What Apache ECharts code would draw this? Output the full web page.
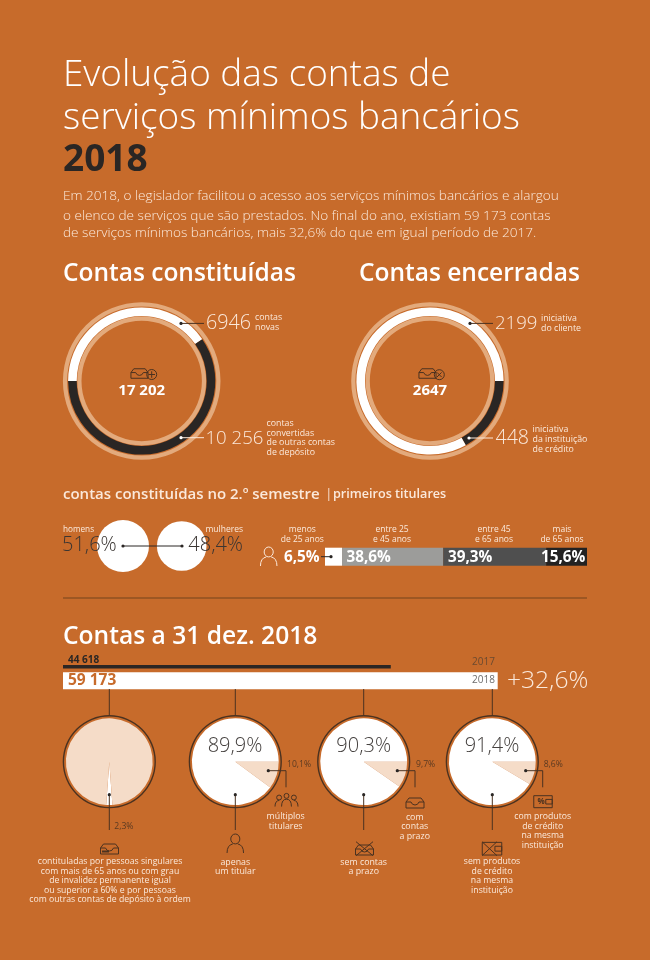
<!DOCTYPE html>
<html><head><meta charset="utf-8">
<style>html,body{margin:0;padding:0;background:#c76b2b}#c{width:650px;height:960px}</style>
<script src="https://cdn.jsdelivr.net/npm/echarts@6/dist/echarts.min.js"></script>
</head><body><div id="c"></div>
<script>
const titleLines = ['Evolução das contas de','serviços mínimos bancários'];
const titleYear = '2018';
const introLines = ['Em 2018, o legislador facilitou o acesso aos serviços mínimos bancários e alargou','o elenco de serviços que são prestados. No final do ano, existiam 59 173 contas','de serviços mínimos bancários, mais 32,6% do que em igual período de 2017.'];
const constituidasValues = [6946, 10256];
const encerradasValues = [448, 2199];
const genderValues = [51.6, 48.4];
const ageValues = [6.5, 38.6, 39.3, 15.6];
const ageLabels = ['6,5%','38,6%','39,3%','15,6%'];
const totals2017 = [44618];
const totals2018 = [59173];
const pieShares = [[2.3, 97.7],[10.1, 89.9],[9.7, 90.3],[8.6, 91.4]];

const BG='#c76b2b', TAN='#e3aa7c', DARK='#2a2624', LIGHT='#fbe9db', WEDGE='#f5dcc8', LINE='#4b3220';
const FONT='"Open Sans"';
const g=[];
const iconEls=[];
function t(text,x,y,size,o={}){
  g.push({type:'text',silent:true,z:20,x,y:y+1,style:{text,font:`${o.w||400} ${size}px ${FONT}`,fill:o.c||LIGHT,
    textAlign:o.a||'left',textVerticalAlign:'middle'}});
}
function stack(lines,x,ys,size,o){lines.forEach((l,i)=>t(l,x,ys[i],size,o));}
function l(x1,y1,x2,y2,c=LINE,w=1){g.push({type:'line',silent:true,z:15,shape:{x1,y1,x2,y2},style:{stroke:c,lineWidth:w}});}
function d(x,y,c=DARK,r=1.6){g.push({type:'circle',silent:true,z:16,shape:{cx:x,cy:y,r},style:{fill:c}});}
function icon(path,cx,cy,w,h,c=LINE,lw=1){iconEls.push({type:'path',silent:true,z2:18,shape:{pathData:path,layout:'center',x:cx-w/2,y:cy-h/2,width:w,height:h},style:{fill:null,stroke:c,lineWidth:lw}});}

// ---- text
t(titleLines[0],63,74,36.9,{w:300,c:'#fff'});
t(titleLines[1],63,117,36.9,{w:300,c:'#fff'});
t(titleYear,63,159.5,37,{w:700,c:DARK});
stack(introLines,63,[195.5,215.5,232.5],13.6,{w:300});
t('Contas constituídas',63,273,24.5,{w:600,c:'#fff'});
t('Contas encerradas',359,273,24.5,{w:600,c:'#fff'});

t('6946',206,322.5,19.7,{w:300});
stack(['contas','novas'],255,[316.5,326.5],8.8);
t('10 256',205.5,437.5,18.6,{w:300});
stack(['contas','convertidas','de outras contas','de depósito'],266.5,[422,432,441.5,451],8.8);
t('17 202',141.7,389.5,15,{w:700,c:'#fff',a:'center'});
t('2199',495,322.5,18.6,{w:300});
stack(['iniciativa','do cliente'],541,[317,327],8.8);
t('448',495.5,437.5,19.6,{w:300});
stack(['iniciativa','da instituição','de crédito'],532.5,[428,438,448],8.8);
t('2647',430,389.5,15,{w:700,c:'#fff',a:'center'});

l(181,323.4,204,323.4,LINE);d(181,323.4);
l(181,437.7,204,437.7,LIGHT);d(181,437.7,'#fff');
l(470,323.4,493,323.4,LINE);d(470,323.4);
l(469,438,493,438,LIGHT);d(469,438,'#fff');

t('contas constituídas no 2.º semestre',63,493.5,15,{w:600});
t('|',325.5,493.5,12,{w:400});
t('primeiros titulares',333,493.5,12.6,{w:600});
t('homens',63,529,8.2);
t('51,6%',62,544.5,20,{w:300,c:'#3a3532'});
t('mulheres',243,529,8.5,{a:'right'});
t('48,4%',243,544.5,20,{w:300,c:'#3a3532',a:'right'});
l(123,546,182,546,DARK);d(123,546);d(182,546);

stack(['menos','de 25 anos'],302.3,[529,539],8.5,{a:'center'});
stack(['entre 25','e 45 anos'],392,[529,539],8.5,{a:'center'});
stack(['entre 45','e 65 anos'],494,[529,539],8.5,{a:'center'});
stack(['mais','de 65 anos'],562,[529,539],8.5,{a:'center'});
t(ageLabels[0],284,557,15.3,{w:700,c:'#fff'});
t(ageLabels[1],346.5,557,15.3,{w:700,c:'#fff'});
t(ageLabels[2],448,557,15.3,{w:700,c:'#fff'});
t(ageLabels[3],541,557,15.3,{w:700,c:'#fff'});
l(321,556.7,331,556.7,DARK);d(331,556.7);

l(63,598,587,598,'#8f5022',1.3);
t('Contas a 31 dez. 2018',63,635.5,24.6,{w:600,c:'#fff'});
t('44 618',68,659.5,10,{w:700,c:DARK});
t('59 173',68,680,15.5,{w:700,c:BG});
t('2017',472,661,10,{c:'#6b4a30'});
t('2018',472,679.5,10,{c:'#6d6d6d'});
t('+32,6%',507,680,24.6,{w:300});

// pie callouts
const cx=[109.3,235.3,363.7,492.3];
cx.forEach(x=>{l(x,689,x,715.5,LINE);l(x,794.7,x,830,LINE);d(x,794.7);});
[['89,9%',235],['90,3%',363.7],['91,4%',492]].forEach(p=>t(p[0],p[1],745,20,{w:300,c:'#45413f',a:'center'}));
t('2,3%',114.3,825.7,8.6,{c:'#5b3a22'});
[[268.3,286,'10,1%'],[397.3,415,'9,7%'],[525.7,542.7,'8,6%']].forEach(p=>{
  l(p[0],770.7,p[1],770.7,LINE);l(p[1],770.7,p[1],787.3,LINE);d(p[0],770.7);
  t(p[2],p[1]+1,764,8.6,{c:'#5b3a22'});
});
stack(['contituladas por pessoas singulares','com mais de 65 anos ou com grau','de invalidez permanente igual','ou superior a 60% e por pessoas','com outras contas de depósito à ordem'],110,[861,870.7,880,889.7,899],8.7,{a:'center'});
stack(['apenas','um titular'],235.3,[861,870.7],8.8,{a:'center'});
stack(['múltiplos','titulares'],285.7,[815.7,825.7],8.8,{a:'center'});
stack(['com','contas','a prazo'],414.7,[816,825.7,835],8.8,{a:'center'});
stack(['sem contas','a prazo'],363.7,[861,870.7],8.8,{a:'center'});
stack(['com produtos','de crédito','na mesma','instituição'],542.7,[816,825.7,835,844.5],8.7,{a:'center'});
stack(['sem produtos','de crédito','na mesma','instituição'],492,[861,870.7,880,889.7],8.7,{a:'center'});

// ---- icons
const TRAY='M1 11 H19 V5 L16 1 H4 L1 5 Z M1 5 H6 Q7 8 10 8 Q13 8 14 5 H19';
const PERSON='M4.5 7 A5.5 6 0 1 1 15.5 7 A5.5 6 0 1 1 4.5 7 Z M0 24 Q0 14.5 7 13 M20 24 Q20 14.5 13 13';
const PERSON3='M11 5 A3 3 0 1 1 17 5 A3 3 0 1 1 11 5 Z M2 7 A3 3 0 1 1 8 7 A3 3 0 1 1 2 7 Z M20 7 A3 3 0 1 1 26 7 A3 3 0 1 1 20 7 Z M0 18 Q0 11 5 10.5 M28 18 Q28 11 23 10.5 M8 18 Q8 9 14 9 Q20 9 20 18';
const CARD='M0 0 H20 V13 H0 Z M13 4 H20 V9 H13 Z';
function ringIcon(x,y){g.push({type:'circle',silent:true,z:18,shape:{cx:x,cy:y,r:5},style:{fill:null,stroke:LINE,lineWidth:1}});}
icon(TRAY,139.5,373.5,18,9.5,LINE);
ringIcon(151.7,374.5);
l(148.5,374.5,155,374.5,LINE);l(151.7,371.3,151.7,377.8,LINE);
icon(TRAY,427.5,373.5,18,9.5,LINE);
ringIcon(439.3,374.7);
l(437,372.4,441.6,377,LINE);l(441.6,372.4,437,377,LINE);
icon(PERSON,268.7,556.5,17,19,LIGHT);
icon(PERSON,235.3,843.5,17,19,LINE);
icon(PERSON3,286.5,800,23,14,LINE);
icon(TRAY,415,803,21,10,LINE);
icon(TRAY,109.5,849,21,10,LINE);
g.push({type:'rect',silent:true,z:18,shape:{x:102,y:850.5,width:7,height:2},style:{fill:LINE}});
icon(TRAY,364.5,850,21,10,LINE);
l(356,841.7,373,855.7,LINE);l(373,841.7,356,855.7,LINE);
icon(CARD,543,801.7,19.5,12,LINE);
t('%',537.5,800.5,8,{w:700,c:LINE});
icon(CARD,492,848.7,19.5,14,LINE);
l(482,841.7,497,855.7,LINE);l(497,841.7,482,855.7,LINE);

// ---- series
const base={type:'pie',silent:true,animation:false,label:{show:false},labelLine:{show:false},emphasis:{disabled:true},clockwise:true};
function ring(c,rI,rO,color){return {...base,center:c,radius:[rI,rO],data:[{value:1,itemStyle:{color}}]};}
function parts(c,r,start,vals,cols){return {...base,center:c,radius:r,startAngle:start,minAngle:0,data:vals.map((v,i)=>({value:v,itemStyle:{color:cols[i]}}))};}

const series=[
  ring([141.7,381],74.6,78.8,TAN),
  ring([141.7,381],60.2,64.4,TAN),
  parts([141.7,381],[65,73.6],180,constituidasValues,['#fff',DARK]),
  ring([430,381],74.6,78.8,TAN),
  ring([430,381],60.2,64.4,TAN),
  parts([430,381],[65,73.6],0,encerradasValues,[DARK,'#fff']),
  parts([123,546],[0,26],90,[genderValues[0]],['#fff']),
  parts([181.7,546],[0,24.8],90,[genderValues[1]],['#fff'])
];
const ageCols=['#fff','#9c9c9a','#4f4f4f','#232222'];
ageValues.forEach((v,i)=>series.push({type:'bar',silent:true,animation:false,stack:'age',barWidth:18,xAxisIndex:0,yAxisIndex:0,data:[v],itemStyle:{color:ageCols[i]}}));
series.push({type:'bar',silent:true,animation:false,barWidth:3.4,xAxisIndex:1,yAxisIndex:1,data:totals2017,itemStyle:{color:DARK}});
series.push({type:'bar',silent:true,animation:false,barWidth:17,xAxisIndex:2,yAxisIndex:2,data:totals2018,itemStyle:{color:'#fff'}});
cx.forEach((x,i)=>{
  series.push(ring([x,761.7],45.2,46.6,LINE));
  const start=i===0?-90+pieShares[0][0]*1.8:0;
  series.push(parts([x,761.7],[0,43.4],start,pieShares[i],i===0?['#fff',WEDGE]:[WEDGE,'#fff']));
});
series.push({type:'custom',coordinateSystem:'none',silent:true,animation:false,z:30,data:[0],
  renderItem:()=>({type:'group',children:iconEls})});
const hiddenX=(gi,max)=>({type:'value',gridIndex:gi,min:0,max,show:false});
const hiddenY=(gi)=>({type:'category',gridIndex:gi,data:[''],show:false});
const option={
  backgroundColor:BG,animation:false,
  grid:[{left:325,top:547.7,width:262,height:18},{left:63,top:665,width:434.7,height:3.4},{left:63,top:672.3,width:434.7,height:17}],
  xAxis:[hiddenX(0,100),hiddenX(1,totals2018[0]),hiddenX(2,totals2018[0])],
  yAxis:[hiddenY(0),hiddenY(1),hiddenY(2)],
  series,
  graphic:{elements:g}
};
echarts.init(document.getElementById('c'),null,{renderer:'canvas'}).setOption(option);
</script></body></html>
